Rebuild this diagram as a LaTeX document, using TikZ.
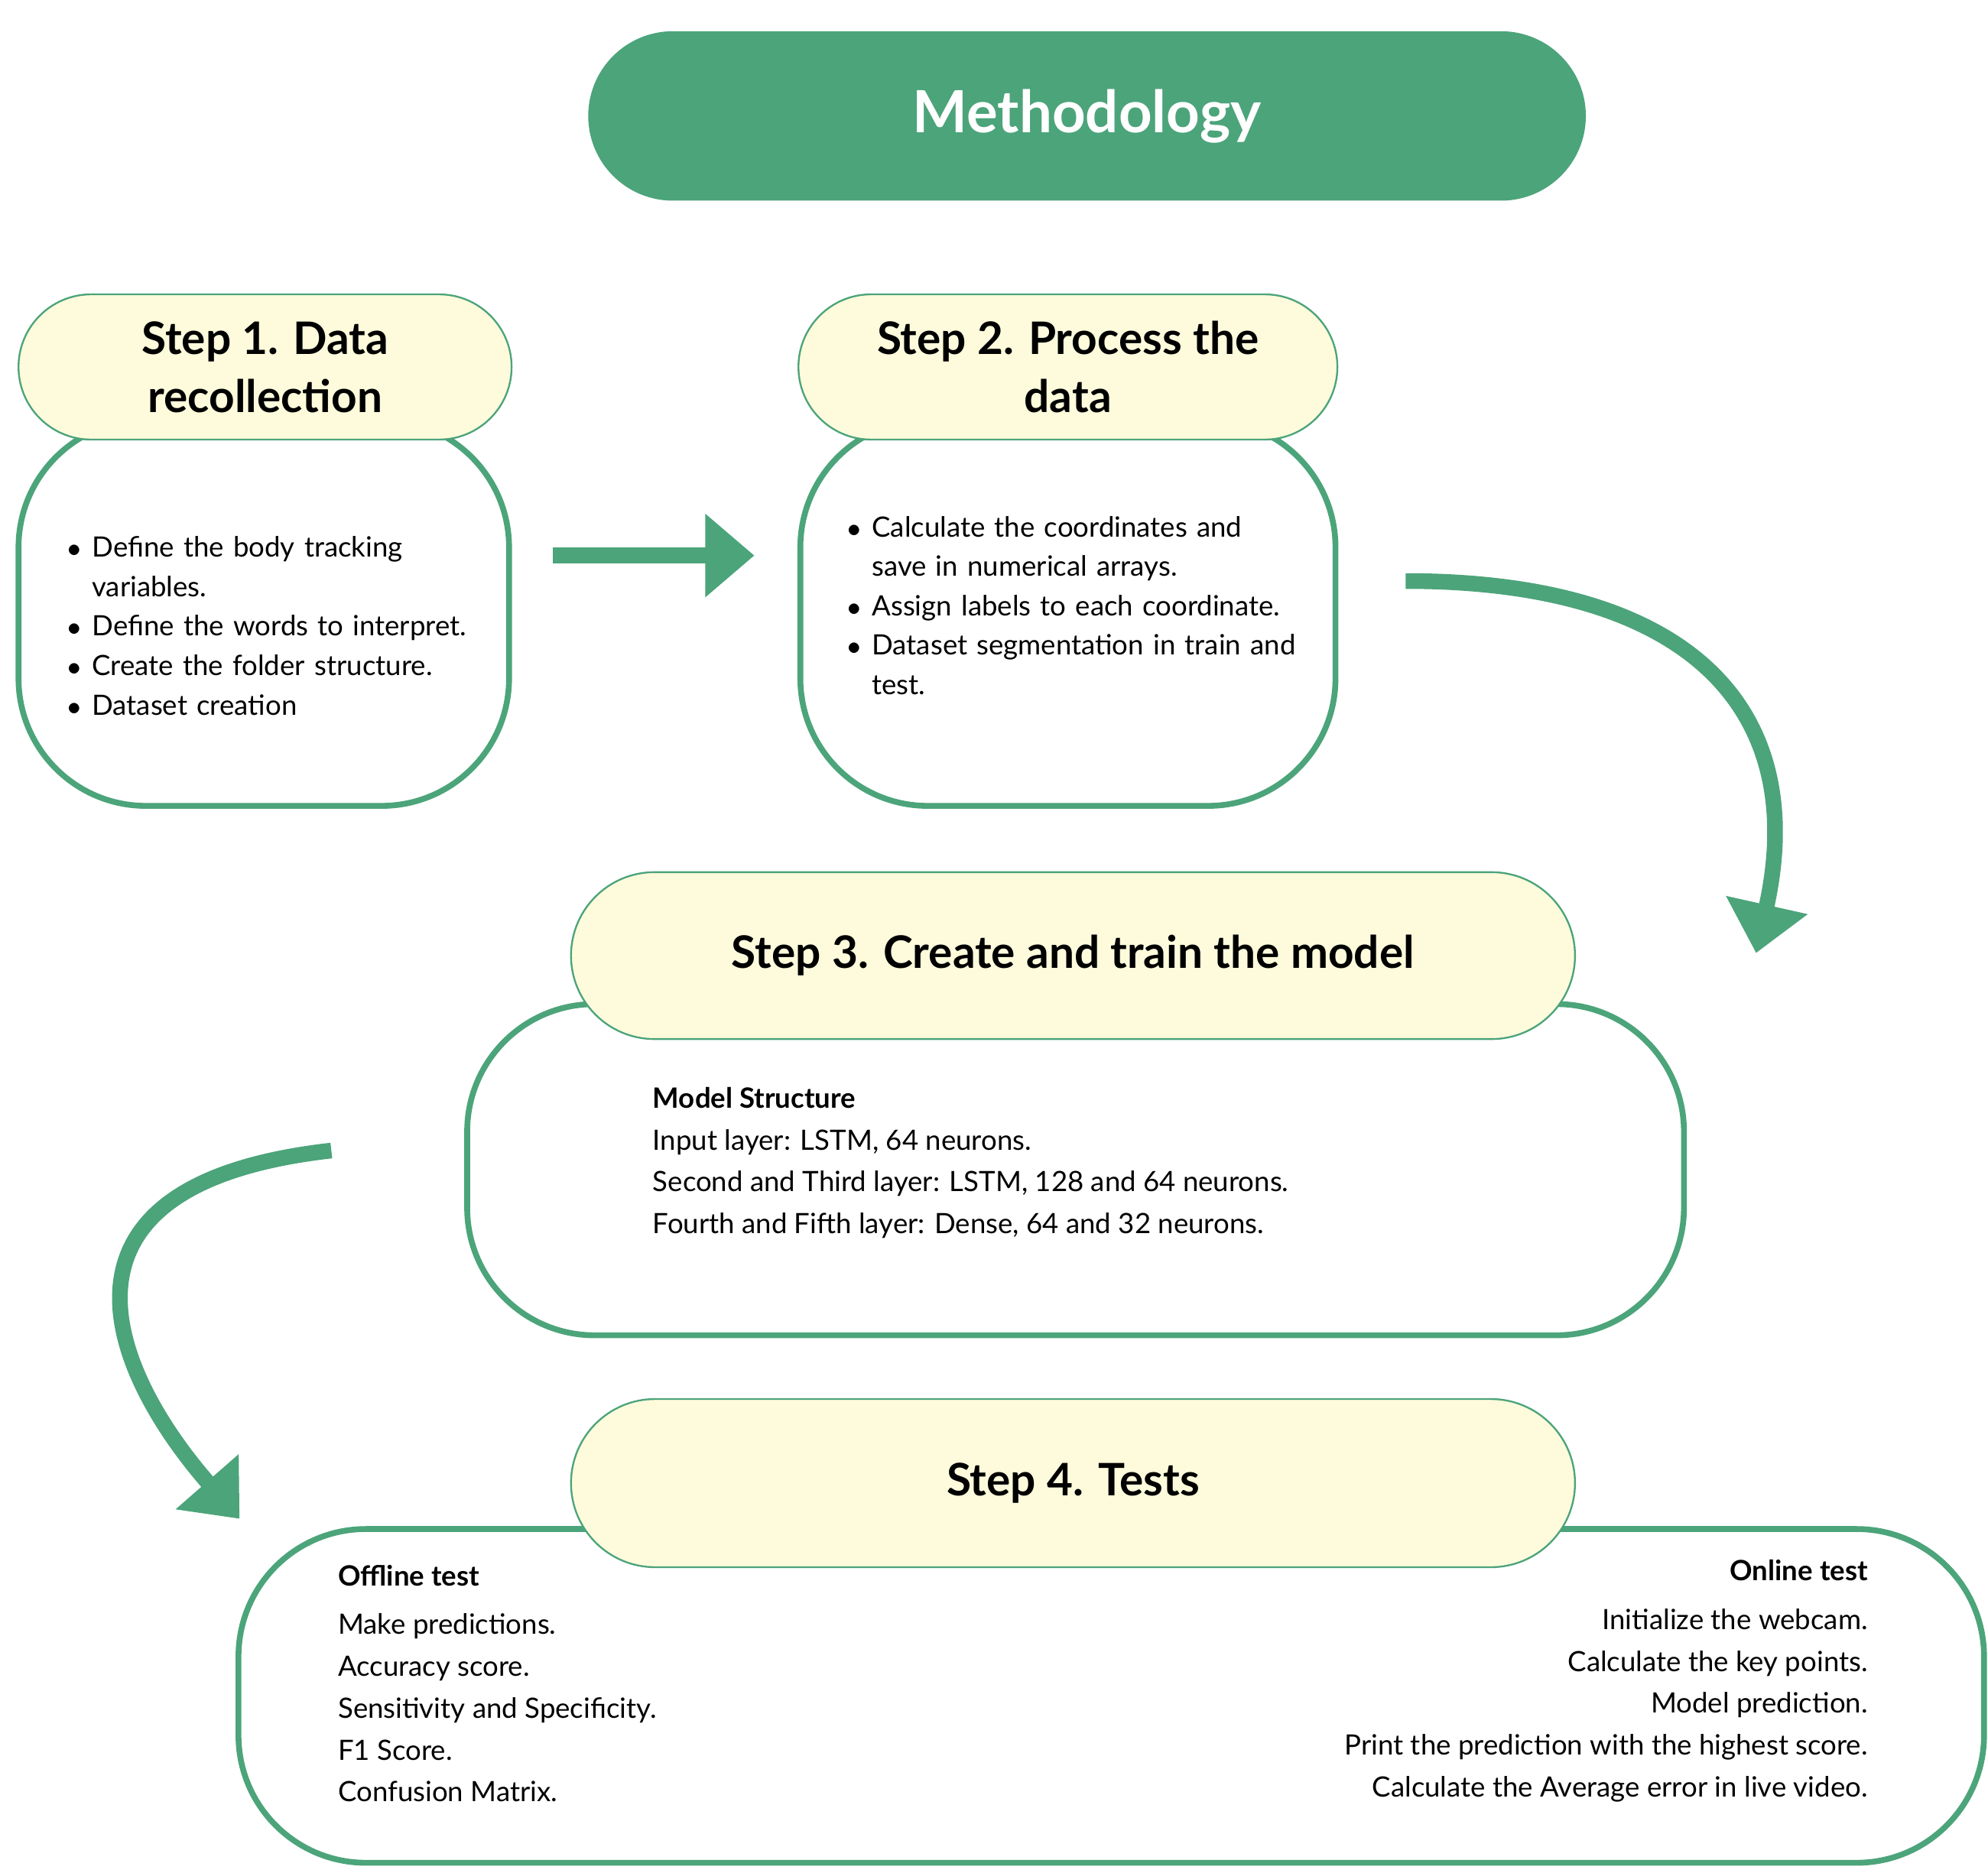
\documentclass[tikz,border=0pt]{standalone}
\usepackage{fontspec}
\setmainfont{Lato}
\usetikzlibrary{arrows.meta}
\definecolor{gr}{HTML}{4CA47A}
\definecolor{cr}{HTML}{FEFBDC}
\tikzset{
 body/.style={draw=gr,line width=2.6pt,fill=white,rounded corners=2cm,inner sep=0pt},
 head/.style={draw=gr,line width=0.8pt,fill=cr,inner sep=0pt,font=\fontsize{20}{26}\selectfont\bfseries,align=center},
 txt/.style={font=\fontsize{12.5}{17.6}\selectfont,align=left,inner sep=0pt},
 arr/.style={draw=gr,line width=7pt,-{Triangle[length=22pt,width=36pt]}}
}
\begin{document}
\begin{tikzpicture}[x=0.02cm,y=-0.02cm]
\useasboundingbox (0,0) rectangle (1560,1470);
\node[fill=gr,rounded corners=1.33cm,minimum width=15.66cm,minimum height=2.66cm,text=white,font=\fontsize{26}{30}\selectfont\bfseries] (title) at (853,91) {Methodology};
% step1
\node[body,minimum width=7.7cm,minimum height=6.06cm] (b1) at (207,481) {};
\node[head,rounded corners=1.14cm,minimum width=7.74cm,minimum height=2.28cm] (h1) at (208,288) {Step 1. Data\\recollection};
\node[txt,anchor=north west,text width=7.6cm] (t1) at (28,392) {\begin{itemize}\setlength{\itemsep}{0pt}\setlength{\parskip}{0pt}\setlength{\leftmargin}{0pt}\item[$\bullet$] Define the body tracking variables.\item[$\bullet$] Define the words to interpret.\item[$\bullet$] Create the folder structure.\item[$\bullet$] Dataset creation\end{itemize}};
% step2
\node[body,minimum width=8.4cm,minimum height=6.06cm] (b2) at (838,481) {};
\node[head,rounded corners=1.14cm,minimum width=8.46cm,minimum height=2.28cm] (h2) at (838,288) {Step 2. Process the\\data};
\node[txt,anchor=north west,text width=7.6cm] (t2) at (640,376) {\begin{itemize}\setlength{\itemsep}{0pt}\setlength{\parskip}{0pt}\item[$\bullet$] Calculate the coordinates and save in numerical arrays.\item[$\bullet$] Assign labels to each coordinate.\item[$\bullet$] Dataset segmentation in train and test.\end{itemize}};
% step3
\node[body,minimum width=19.1cm,minimum height=5.2cm] (b3) at (844,918) {};
\node[head,rounded corners=1.31cm,minimum width=15.76cm,minimum height=2.62cm] (h3) at (842,750) {Step 3. Create and train the model};
\node[txt,anchor=north west,font=\fontsize{12.5}{18.7}\selectfont] (t3) at (512,853) {\textbf{Model Structure}\\Input layer: LSTM, 64 neurons.\\Second and Third layer: LSTM, 128 and 64 neurons.\\Fourth and Fifth layer: Dense, 64 and 32 neurons.};
% step4
\node[body,minimum width=27.4cm,minimum height=5.24cm] (b4) at (872,1331) {};
\node[head,rounded corners=1.32cm,minimum width=15.76cm,minimum height=2.64cm] (h4) at (842,1164) {Step 4. Tests};
\node[txt,anchor=north west,font=\fontsize{12.5}{18.7}\selectfont] (t4a) at (265,1228) {\textbf{Offline test}\\[3pt]Make predictions.\\Accuracy score.\\Sensitivity and Specificity.\\F1 Score.\\Confusion Matrix.};
\node[txt,anchor=north east,align=right,font=\fontsize{12.5}{18.7}\selectfont] (t4b) at (1466,1224) {\textbf{Online test}\\[3pt]Initialize the webcam.\\Calculate the key points.\\Model prediction.\\Print the prediction with the highest score.\\Calculate the Average error in live video.};
% arrows
\coordinate (a1s) at (434,436); \coordinate (a1e) at (592,436);
\draw[arr] (a1s) -- (a1e);
\coordinate (a2s) at (1103,456); \coordinate (a2e) at (1378,748);
\draw[arr] (a2s) .. controls (1330,456) and (1420,560) .. (a2e);
\coordinate (a3s) at (260,903); \coordinate (a3e) at (188,1192);
\draw[arr] (a3s) .. controls (20,930) and (90,1080) .. (a3e);
\end{tikzpicture}
\end{document}
